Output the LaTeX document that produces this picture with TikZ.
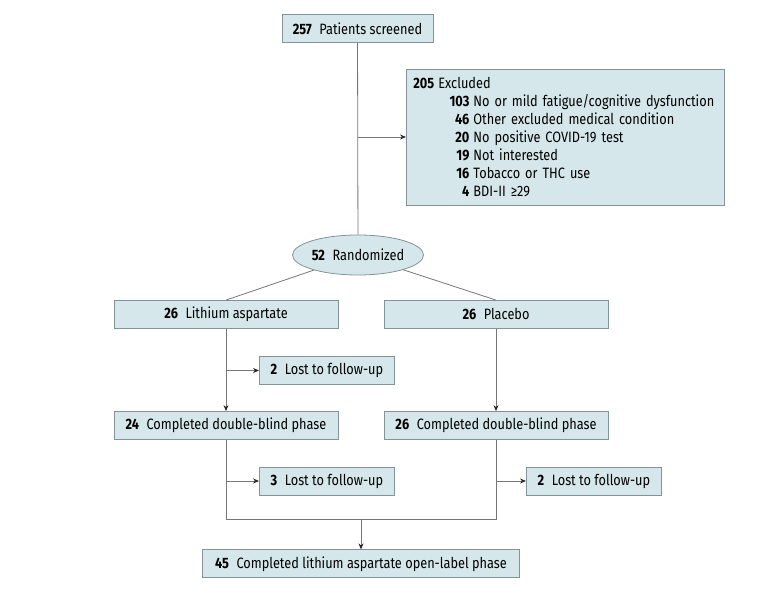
\documentclass[tikz,border=0pt]{standalone}
\usepackage{fontspec}
\setmainfont{Fira Sans}[FakeStretch=0.85]
\usetikzlibrary{positioning,arrows.meta,calc,shapes.geometric}

\definecolor{boxfill}{RGB}{213,231,234}
\definecolor{boxline}{RGB}{132,148,150}
\definecolor{linegray}{RGB}{118,118,118}

\newcommand{\nlabel}[2]{\textbf{#1}\hspace{7.5pt}#2}
\newcommand{\exline}[2]{\makebox[56pt][r]{\textbf{#1}}\hspace{4pt}#2}

\begin{document}
\begin{tikzpicture}[
    x=1pt, y=-1pt,
    >=Stealth,
    every node/.style={font=\fontsize{15}{18}\selectfont},
    box/.style={draw=boxline, fill=boxfill, line width=0.8pt, minimum height=28pt, inner sep=4pt, text centered},
    flowbox/.style={box, minimum width=224pt},
    lostbox/.style={box, minimum width=135pt},
    randnode/.style={ellipse, draw=boxline, fill=boxfill, line width=0.8pt, minimum width=131pt, minimum height=40pt, inner sep=0pt},
    flowline/.style={draw=linegray, line width=0.8pt},
    flowarrow/.style={flowline, -{Stealth[length=6pt,width=5pt,color=black!85]}},
]

\useasboundingbox (0,0) rectangle (780,593);

% ---- Screening ----
\node[box, minimum width=151pt] (screened) at (357.5,28.5) {\nlabel{257}{Patients screened}};
\node[box, anchor=west, align=left, text width=304pt, inner sep=7pt, minimum height=136pt] (excluded) at (406,137) {%
    \textbf{205}\hspace{4pt}Excluded\\
    \exline{103}{No or mild fatigue/cognitive dysfunction}\\
    \exline{46}{Other excluded medical condition}\\
    \exline{20}{No positive COVID-19 test}\\
    \exline{19}{Not interested}\\
    \exline{16}{Tobacco or THC use}\\
    \exline{4}{BDI-II ≥29}};
\node[randnode] (rand) at (358,255) {\nlabel{52}{Randomized}};

\draw[flowline] (screened) -- (rand);
\draw[flowarrow] (screened |- excluded.west) -- (excluded.west);

% ---- Arms ----
\node[flowbox] (lithium) at (226,314.5) {\nlabel{26}{Lithium aspartate}};
\node[flowbox] (placebo) at (496,314.5) {\nlabel{26}{Placebo}};

\draw[flowline] (rand) -- (lithium.north);
\draw[flowline] (rand) -- (placebo.north);

% ---- Double-blind phase ----
\node[flowbox] (comp1) at (226,425.5) {\nlabel{24}{Completed double-blind phase}};
\node[flowbox] (comp2) at (496,425.5) {\nlabel{26}{Completed double-blind phase}};
\node[lostbox, anchor=west] (lost1) at (259,370.5) {\nlabel{2}{Lost to follow-up}};

\draw[flowarrow] (lithium) -- (comp1);
\draw[flowarrow] (lithium.south |- lost1.west) -- (lost1.west);
\draw[flowarrow] (placebo) -- (comp2);

% ---- Open-label phase ----
\node[lostbox, anchor=west] (lost2) at (259,481) {\nlabel{3}{Lost to follow-up}};
\node[lostbox, anchor=west] (lost3) at (526,481) {\nlabel{2}{Lost to follow-up}};
\coordinate (merge) at ($(comp1.south)!0.5!(comp2.south) + (0,79.5)$);
\node[box, minimum width=317pt, below=30pt of merge] (openlabel) {\nlabel{45}{Completed lithium aspartate open-label phase}};

\draw[flowline] (comp1.south) |- (merge) -| (comp2.south);
\draw[flowarrow] (comp1.south |- lost2.west) -- (lost2.west);
\draw[flowarrow] (comp2.south |- lost3.west) -- (lost3.west);
\draw[flowarrow] (merge) -- (openlabel);

\end{tikzpicture}
\end{document}
